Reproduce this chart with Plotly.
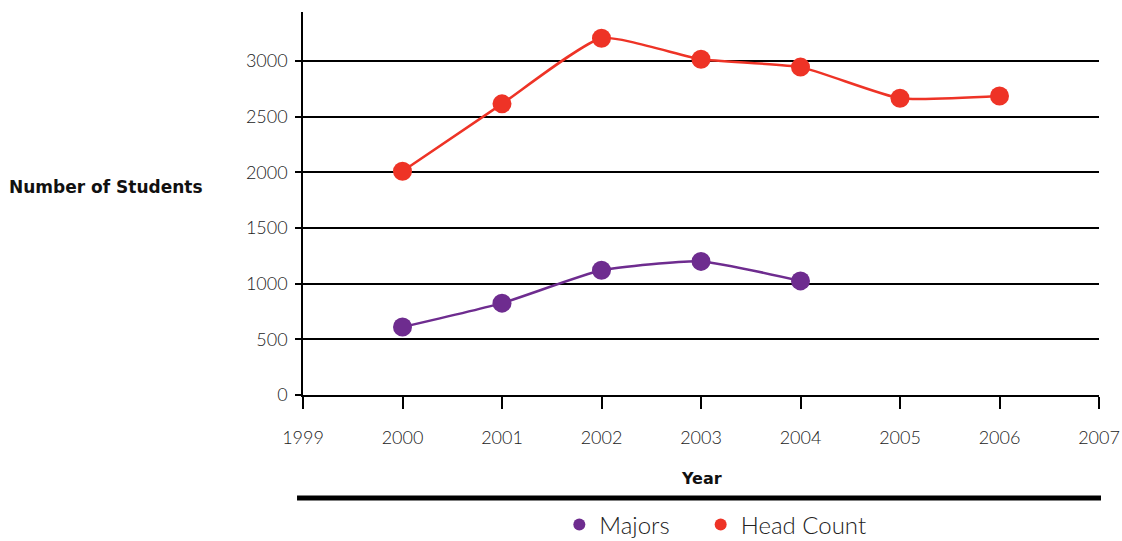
import plotly.graph_objects as go

years = [2000, 2001, 2002, 2003, 2004, 2005, 2006]
majors_years = [2000, 2001, 2002, 2003, 2004]
majors = [610, 825, 1120, 1200, 1025]
head_count = [2010, 2615, 3205, 3015, 2945, 2665, 2685]
x_ticks = [1999, 2000, 2001, 2002, 2003, 2004, 2005, 2006, 2007]
y_ticks = [0, 500, 1000, 1500, 2000, 2500, 3000]

PURPLE = "#6E2C8F"
RED = "#EE3326"
FONT = "Lato"
TITLE_FONT = "DejaVu Sans"
PAD = "\u00a0" * 4

fig = go.Figure()
fig.add_trace(go.Scatter(
    x=majors_years, y=majors, name="Majors", mode="lines+markers", showlegend=False,
    line=dict(color=PURPLE, width=2.5, shape="spline", smoothing=0.5),
    marker=dict(color=PURPLE, size=19),
))
fig.add_trace(go.Scatter(
    x=years, y=head_count, name="Head Count", mode="lines+markers", showlegend=False,
    line=dict(color=RED, width=2.5, shape="spline", smoothing=0.5),
    marker=dict(color=RED, size=19),
))
# legend entries (markers only)
fig.add_trace(go.Scatter(x=[None], y=[None], name="Majors" + PAD, mode="markers",
                         marker=dict(color=PURPLE, size=17)))
fig.add_trace(go.Scatter(x=[None], y=[None], name="Head Count", mode="markers",
                         marker=dict(color=RED, size=17)))

fig.update_layout(
    width=1122, height=541,
    margin=dict(l=303, r=23, t=12, b=146, autoexpand=False),
    plot_bgcolor="white", paper_bgcolor="white",
    font=dict(family=FONT, size=18, color="#222222", weight=300),
    showlegend=True,
    legend=dict(orientation="h", x=0.518, xanchor="center", y=-0.339, yanchor="middle",
                font=dict(size=24, color="#222222", weight=300), itemsizing="constant",
                itemwidth=30, tracegroupgap=0),
    xaxis=dict(range=[1999, 2007], tickmode="array", tickvals=x_ticks,
               ticktext=[str(v) for v in x_ticks], automargin=False,
               showline=True, linecolor="black", linewidth=1.5,
               ticks="outside", ticklen=12, tickcolor="black", tickwidth=1.5,
               ticklabelstandoff=14,
               showgrid=False, zeroline=False, fixedrange=True),
    yaxis=dict(range=[0, 3440], tickmode="array", tickvals=y_ticks, automargin=False,
               showline=True, linecolor="black", linewidth=1.5,
               ticks="outside", ticklen=6, tickcolor="black", tickwidth=1.5,
               ticklabelstandoff=4,
               showgrid=True, gridcolor="black", gridwidth=1.5,
               zeroline=False, fixedrange=True),
)

fig.add_annotation(text="<b>Number of Students</b>", xref="paper", yref="paper",
                   x=-0.123, y=0.543, xanchor="right", yanchor="middle",
                   showarrow=False, font=dict(size=17, color="#111111", family=TITLE_FONT))
fig.add_annotation(text="<b>Year</b>", xref="paper", yref="paper",
                   x=0.5, y=-0.219, xanchor="center", yanchor="middle",
                   showarrow=False, font=dict(size=16, color="#111111", family=TITLE_FONT))
fig.add_shape(type="line", xref="paper", yref="paper",
              x0=-0.0075, x1=1.0025, y0=-0.269, y1=-0.269,
              line=dict(color="black", width=5))

fig.write_html("out.html")
